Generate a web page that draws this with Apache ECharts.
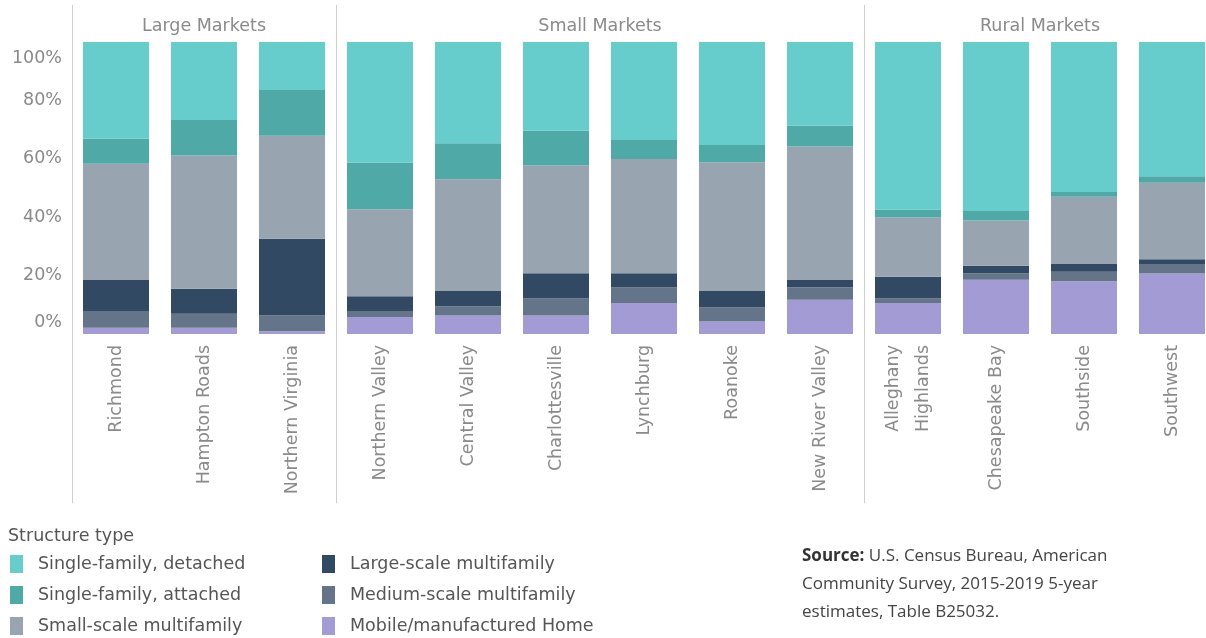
<!DOCTYPE html>
<html>
<head>
<meta charset="utf-8">
<script src="https://cdn.jsdelivr.net/npm/echarts@6/dist/echarts.min.js"></script>
<style>
html,body{margin:0;padding:0;background:#fff;}
#main{width:1206px;height:638px;}
</style>
</head>
<body>
<div id="main"></div>
<script>
var regions = ['Richmond', 'Hampton Roads', 'Northern Virginia',
	'Northern Valley', 'Central Valley', 'Charlottesville', 'Lynchburg', 'Roanoke', 'New River Valley',
	'Alleghany\nHighlands', 'Chesapeake Bay', 'Southside', 'Southwest'];
var groupNames = ['Large Markets', 'Small Markets', 'Rural Markets'];
var groupSizes = [3, 6, 4];

// share of housing units by structure type (%)
var detached = [33.1, 26.7, 16.4, 41.3, 34.7, 30.4, 33.6, 35.3, 28.7, 57.4, 57.9, 51.4, 46.0];
var attached = [8.6, 12.2, 15.7, 16.0, 12.3, 11.9, 6.5, 5.9, 7.1, 2.7, 3.2, 1.6, 2.2];
var smallScale = [39.6, 45.6, 35.3, 29.8, 38.1, 36.9, 39.1, 43.9, 45.5, 20.3, 15.5, 23.0, 26.2];
var largeScale = [10.8, 8.6, 26.3, 5.0, 5.4, 8.6, 4.9, 5.8, 2.7, 7.4, 2.7, 2.7, 1.6];
var mediumScale = [5.8, 4.8, 5.4, 2.1, 3.2, 5.9, 5.3, 4.8, 4.3, 1.6, 2.1, 3.2, 3.3];
var mobile = [2.1, 2.1, 0.9, 5.8, 6.3, 6.3, 10.6, 4.3, 11.7, 10.6, 18.6, 18.1, 20.7];

var names = ['Single-family, detached', 'Single-family, attached', 'Small-scale multifamily',
	'Large-scale multifamily', 'Medium-scale multifamily', 'Mobile/manufactured Home'];
var colors = ['#67cdcc', '#4fa9a7', '#99a4b1', '#324963', '#647589', '#a29bd4'];

var font = 'DejaVu Sans';
var fs = 17.5;
var gray = '#8a8a8a';

function bar(name, data, color){
	return {
		name: name,
		type: 'bar',
		stack: 'all',
		barWidth: 66,
		xAxisIndex: 0,
		yAxisIndex: 0,
		itemStyle: {color: color},
		data: data
	};
}

var myChart = echarts.init(document.getElementById('main'));

function legend(left, items){
	return {
		left: left,
		top: 555,
		height: 90,
		padding: 0,
		orient: 'vertical',
		icon: 'rect',
		itemWidth: 13,
		itemHeight: 18,
		itemGap: 13,
		data: items,
		textStyle: {fontFamily: font, fontSize: fs, color: '#555', padding: [0, 0, 0, 10]}
	};
}

var option = {
	animation: false,
	color: colors,
	grid: [
		{left: 72, width: 1144, top: 42, bottom: 304, outerBoundsMode: 'none'},
		{left: 72, width: 1144, top: 5, bottom: 135, outerBoundsMode: 'none'}
	],
	xAxis: [
		{
			type: 'category',
			gridIndex: 0,
			data: regions,
			axisLine: {show: false},
			axisTick: {show: false},
			axisLabel: {
				rotate: 90,
				margin: 11,
				interval: 0,
				color: gray,
				fontFamily: font,
				fontSize: fs,
				lineHeight: 30
			}
		},
		{
			type: 'category',
			gridIndex: 1,
			data: regions,
			axisLine: {show: false},
			axisTick: {show: false},
			axisLabel: {show: false},
			splitLine: {
				show: true,
				interval: function(index){
					return index === 0 || index === 3 || index === 9;
				},
				lineStyle: {color: '#cfcfcf', width: 1}
			}
		}
	],
	yAxis: [
		{
			type: 'value',
			gridIndex: 0,
			min: 0,
			max: 100,
			interval: 20,
			axisLine: {show: false},
			axisTick: {show: false},
			splitLine: {show: false},
			axisLabel: {
				margin: 10,
				fontFamily: font,
				fontSize: fs,
				color: gray,
				formatter: function(v){
					if(v === 100) return '{top|100%}';
					if(v === 0) return '{bot|0%}';
					return v + '%';
				},
				rich: {
					top: {fontFamily: font, fontSize: fs, color: gray, padding: [33, 0, 0, 0]},
					bot: {fontFamily: font, fontSize: fs, color: gray, padding: [0, 0, 23, 0]}
				}
			}
		},
		{type: 'value', gridIndex: 1, show: false}
	],
	legend: [
		legend(10, names.slice(0, 3)),
		legend(322, names.slice(3))
	],
	series: [
		bar(names[5], mobile, colors[5]),
		bar(names[4], mediumScale, colors[4]),
		bar(names[3], largeScale, colors[3]),
		bar(names[2], smallScale, colors[2]),
		bar(names[1], attached, colors[1]),
		bar(names[0], detached, colors[0])
	]
};
myChart.setOption(option);

// panel titles centred over each group of bars
var graphics = [];
var start = 0;
for(var i = 0; i < groupNames.length; i++){
	var a = myChart.convertToPixel({xAxisIndex: 0}, start);
	var b = myChart.convertToPixel({xAxisIndex: 0}, start + groupSizes[i] - 1);
	graphics.push({
		type: 'text',
		x: (a + b) / 2,
		y: 26,
		style: {
			text: groupNames[i],
			fill: gray,
			font: fs + 'px "' + font + '"',
			align: 'center',
			verticalAlign: 'middle'
		}
	});
	start += groupSizes[i];
}
graphics.push({
	type: 'text',
	left: 8,
	top: 527,
	style: {text: 'Structure type', fill: '#555', font: fs + 'px "' + font + '"'}
});
graphics.push({
	type: 'text',
	left: 802,
	top: 542,
	style: {
		text: '{b|Source:} U.S. Census Bureau, American\nCommunity Survey, 2015-2019 5-year\nestimates, Table B25032.',
		fill: '#444',
		font: '17px "Open Sans"',
		lineHeight: 28,
		rich: {
			b: {fontWeight: 'bold', fontFamily: 'Open Sans', fontSize: 17, fill: '#333', lineHeight: 28}
		}
	}
});
myChart.setOption({graphic: graphics});
</script>
</body>
</html>
